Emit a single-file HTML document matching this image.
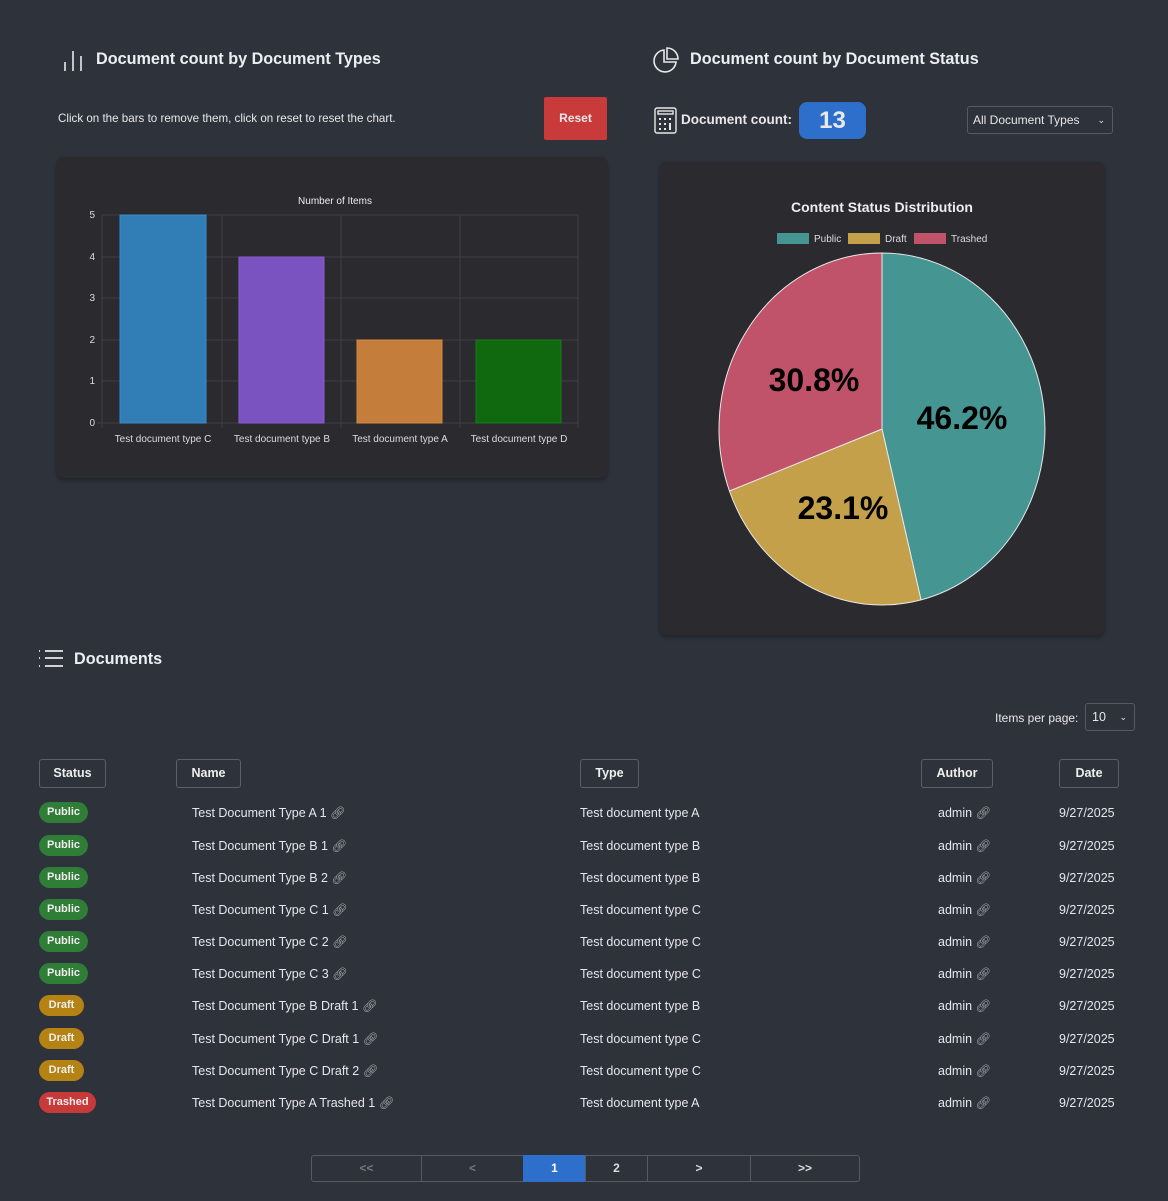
<!DOCTYPE html>
<html><head><meta charset="utf-8"><style>
*{box-sizing:border-box;margin:0;padding:0}
body{width:1168px;height:1201px;background:#2d323b;font-family:"Liberation Sans",sans-serif;color:#e8e8ea;position:relative;overflow:hidden}
.a{position:absolute;white-space:nowrap}
h2{position:absolute;font-size:16.2px;font-weight:bold;color:#eceef1}
.card{position:absolute;background:#2a2a2f;border-radius:6px;box-shadow:0 2px 4px rgba(0,0,0,.35)}
.th{position:absolute;top:759px;height:29px;border:1px solid #5a5f68;border-radius:3px;font-size:12.5px;font-weight:bold;text-align:center;line-height:27px;color:#eee}
.badge{position:absolute;left:39px;height:21px;border-radius:11px;font-size:11px;font-weight:bold;color:#eee;line-height:21px;text-align:center}
.t{position:absolute;font-size:12.5px;color:#e6e7ea;white-space:nowrap}
.pg{position:absolute;top:1155px;height:27px;border:1px solid #555a63;font-size:12px;font-weight:bold;text-align:center;line-height:25px;color:#ddd}
</style></head><body>
<svg class="a" style="left:62px;top:47px" width="22" height="24"><g stroke="#e8e8e8" stroke-width="1.6"><line x1="3" y1="15" x2="3" y2="24"/><line x1="11" y1="4" x2="11" y2="24"/><line x1="19" y1="9" x2="19" y2="24"/></g></svg>
<h2 style="left:96px;top:50px">Document count by Document Types</h2>
<div class="a" style="left:58px;top:112px;font-size:11.6px">Click on the bars to remove them, click on reset to reset the chart.</div>
<div class="a" style="left:544px;top:97px;width:63px;height:43px;background:#c93a3a;border-radius:2px;font-size:12px;font-weight:bold;text-align:center;line-height:43px">Reset</div>
<div class="card" style="left:57px;top:157px;width:550px;height:321px"></div>
<svg class="a" style="left:0;top:0" width="620" height="460">
<text x="335" y="204" fill="#eee" font-size="10" text-anchor="middle" font-family="Liberation Sans">Number of Items</text>
<g stroke="#3e3e45" stroke-width="1">
<line x1="102" y1="215" x2="578" y2="215"/><line x1="102" y1="257" x2="578" y2="257"/><line x1="102" y1="298" x2="578" y2="298"/><line x1="102" y1="340" x2="578" y2="340"/><line x1="102" y1="381" x2="578" y2="381"/><line x1="97" y1="423" x2="578" y2="423"/>
<line x1="102" y1="215" x2="102" y2="428"/><line x1="222" y1="215" x2="222" y2="428"/><line x1="341" y1="215" x2="341" y2="428"/><line x1="460" y1="215" x2="460" y2="428"/><line x1="578" y1="215" x2="578" y2="428"/>
</g>
<g font-size="10" fill="#ddd" text-anchor="end" font-family="Liberation Sans"><text x="95" y="218">5</text><text x="95" y="260">4</text><text x="95" y="301">3</text><text x="95" y="343">2</text><text x="95" y="384">1</text><text x="95" y="426">0</text></g>
<rect x="120" y="215" width="86" height="208" fill="#317db5" stroke="#3a8ccb"/>
<rect x="239" y="257" width="85" height="166" fill="#7b53c1" stroke="#8a5fd6"/>
<rect x="357" y="340" width="85" height="83" fill="#c47d3a" stroke="#d58a40"/>
<rect x="476" y="340" width="85" height="83" fill="#10680f" stroke="#148014"/>
<g font-size="10" fill="#ddd" text-anchor="middle" font-family="Liberation Sans"><text x="163" y="442">Test document type C</text><text x="282" y="442">Test document type B</text><text x="400" y="442">Test document type A</text><text x="519" y="442">Test document type D</text></g>
</svg>

<svg class="a" style="left:652px;top:46px" width="28" height="28" fill="none" stroke="#e8e8e8" stroke-width="1.6"><path d="M12 4 A11 11 0 1 0 24 16 L12 16 Z"/><path d="M15 2 A11 11 0 0 1 26 13 L15 13 Z"/></svg>
<h2 style="left:690px;top:50px">Document count by Document Status</h2>
<svg class="a" style="left:654px;top:107px" width="24" height="27" fill="none" stroke="#e8e8e8" stroke-width="1.4"><rect x="1" y="1" width="21" height="25" rx="2"/><rect x="4" y="4" width="15" height="3"/><g fill="#e8e8e8" stroke="none"><rect x="5" y="11" width="2" height="2"/><rect x="10" y="11" width="2" height="2"/><rect x="15" y="11" width="2" height="2"/><rect x="5" y="16" width="2" height="2"/><rect x="10" y="16" width="2" height="2"/><rect x="15" y="16" width="2" height="7"/><rect x="5" y="21" width="2" height="2"/><rect x="10" y="21" width="2" height="2"/></g></svg>
<div class="a" style="left:681px;top:112px;font-size:13.5px;font-weight:bold">Document count:</div>
<div class="a" style="left:799px;top:102px;width:67px;height:37px;background:#2f6fcc;border-radius:8px;font-size:24px;font-weight:bold;text-align:center;line-height:37px">13</div>
<div class="a" style="left:967px;top:106px;width:146px;height:28px;border:1px solid #555a63;border-radius:3px;font-size:12px;line-height:26px;padding-left:5px">All Document Types<span style="position:absolute;right:7px;font-size:9px">&#8964;</span></div>
<div class="card" style="left:660px;top:162px;width:444px;height:473px"></div>
<svg class="a" style="left:0;top:0" width="1168" height="640">
<text x="882" y="212" fill="#eee" font-size="14" font-weight="bold" text-anchor="middle" font-family="Liberation Sans">Content Status Distribution</text>
<rect x="777" y="233" width="32" height="11" fill="#459593"/><text x="814" y="242" fill="#ddd" font-size="10" font-family="Liberation Sans">Public</text>
<rect x="848" y="233" width="32" height="11" fill="#c4a04a"/><text x="885" y="242" fill="#ddd" font-size="10" font-family="Liberation Sans">Draft</text>
<rect x="914" y="233" width="32" height="11" fill="#c0536a"/><text x="951" y="242" fill="#ddd" font-size="10" font-family="Liberation Sans">Trashed</text>
<g transform="translate(882,429) scale(163,176)" stroke="#e8e8e8" stroke-width="1" vector-effect="non-scaling-stroke">
<path d="M0,0 L0,-1 A1,1 0 0 1 0.2393,0.9709 Z" fill="#459593" vector-effect="non-scaling-stroke"/>
<path d="M0,0 L0.2393,0.9709 A1,1 0 0 1 -0.9359,0.3522 Z" fill="#c4a04a" vector-effect="non-scaling-stroke"/>
<path d="M0,0 L-0.9359,0.3522 A1,1 0 0 1 0,-1 Z" fill="#c0536a" vector-effect="non-scaling-stroke"/>
</g>
<g font-size="32" font-weight="bold" fill="#000" text-anchor="middle" font-family="Liberation Sans"><text x="962" y="429">46.2%</text><text x="843" y="519">23.1%</text><text x="814" y="391">30.8%</text></g>
</svg>

<svg class="a" style="left:38px;top:649px" width="26" height="20" stroke="#e8e8e8" stroke-width="1.8"><line x1="1" y1="2" x2="2" y2="2"/><line x1="1" y1="9" x2="2" y2="9"/><line x1="1" y1="17" x2="2" y2="17"/><line x1="7" y1="2" x2="25" y2="2"/><line x1="7" y1="9" x2="25" y2="9"/><line x1="7" y1="17" x2="25" y2="17"/></svg>
<h2 style="left:74px;top:650px">Documents</h2>
<div class="a" style="left:995px;top:711px;font-size:12px">Items per page:</div>
<div class="a" style="left:1085px;top:703px;width:50px;height:28px;border:1px solid #555a63;border-radius:3px;font-size:12.5px;line-height:26px;padding-left:6px">10<span style="position:absolute;right:7px;font-size:9px">&#8964;</span></div>

<div class="th" style="left:39px;width:67px">Status</div>
<div class="th" style="left:176px;width:65px">Name</div>
<div class="th" style="left:580px;width:59px">Type</div>
<div class="th" style="left:921px;width:72px">Author</div>
<div class="th" style="left:1059px;width:60px">Date</div>

<div id="rows"></div>
<script>
var rows=[["Public","Test Document Type A 1","A"],["Public","Test Document Type B 1","B"],["Public","Test Document Type B 2","B"],["Public","Test Document Type C 1","C"],["Public","Test Document Type C 2","C"],["Public","Test Document Type C 3","C"],["Draft","Test Document Type B Draft 1","B"],["Draft","Test Document Type C Draft 1","C"],["Draft","Test Document Type C Draft 2","C"],["Trashed","Test Document Type A Trashed 1","A"]];
var col={Public:["#2f7d36",49],Draft:["#b58214",45],Trashed:["#c83a3a",57]};
var h="";var ys=[813,846,878,910,942,974,1006,1039,1071,1103];
rows.forEach(function(r,i){var y=ys[i];var c=col[r[0]];
h+='<div class="badge" style="top:'+(y-11)+'px;width:'+c[1]+'px;background:'+c[0]+'">'+r[0]+'</div>';
h+='<div class="t" style="left:192px;top:'+(y-7)+'px">'+r[1]+' <span style="color:#aaa">&#128279;&#xFE0E;</span></div>';
h+='<div class="t" style="left:580px;top:'+(y-7)+'px">Test document type '+r[2]+'</div>';
h+='<div class="t" style="left:938px;top:'+(y-7)+'px">admin <span style="color:#aaa">&#128279;&#xFE0E;</span></div>';
h+='<div class="t" style="left:1059px;top:'+(y-7)+'px">9/27/2025</div>';});
document.getElementById("rows").innerHTML=h;
</script>

<div class="pg" style="left:311px;width:111px;color:#777;border-radius:3px 0 0 3px">&lt;&lt;</div>
<div class="pg" style="left:421px;width:103px;color:#777">&lt;</div>
<div class="pg" style="left:523px;width:63px;background:#2f6fcc;border-color:#2f6fcc;color:#fff">1</div>
<div class="pg" style="left:585px;width:63px">2</div>
<div class="pg" style="left:647px;width:104px">&gt;</div>
<div class="pg" style="left:750px;width:110px;border-radius:0 3px 3px 0">&gt;&gt;</div>
</body></html>
